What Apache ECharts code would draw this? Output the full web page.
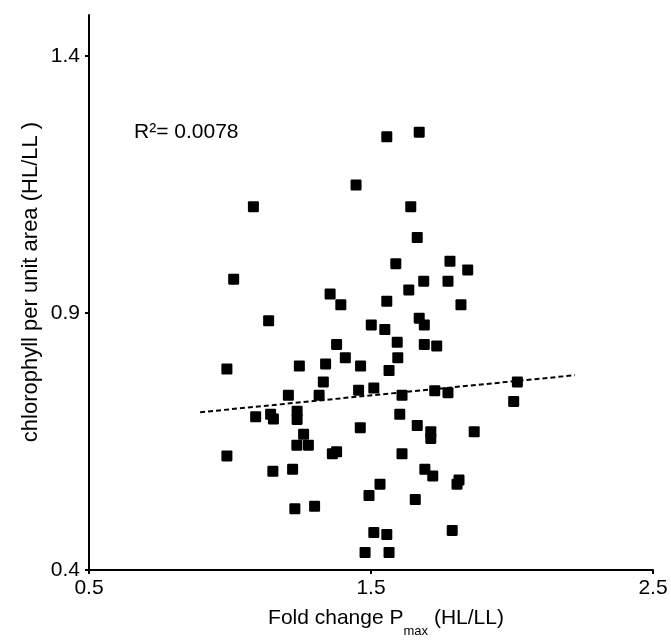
<!DOCTYPE html>
<html>
<head>
<meta charset="utf-8">
<script src="https://cdn.jsdelivr.net/npm/echarts@6/dist/echarts.min.js"></script>
<style>
html,body{margin:0;padding:0;background:#fff;}
#chart{width:671px;height:641px;}
</style>
</head>
<body>
<div id="chart"></div>
<script>
// Fold change Pmax (HL/LL) for each sample
var pmaxFold = [
  1.556, 1.671, 1.447, 1.083, 1.641, 1.664, 1.588, 1.013, 1.687, 1.634,
  1.355, 1.393, 1.556, 1.137, 1.671, 1.689, 1.501, 1.549, 1.593, 1.378,
  1.689, 1.780, 1.843, 1.773, 1.819, 1.733, 0.989, 1.246, 1.339, 1.409,
  1.463, 1.595, 1.564, 1.331, 1.207, 1.316, 1.456, 1.510, 1.610, 1.091,
  1.144, 1.154, 1.238, 1.238, 1.602, 1.462, 1.664, 1.261, 1.237, 1.278,
  1.363, 1.378, 1.610, 0.989, 1.152, 1.222, 1.691, 1.532, 1.493, 1.657,
  1.230, 1.300, 1.510, 1.556, 1.479, 1.564, 1.726, 1.773, 2.019, 2.006,
  1.712, 1.712, 1.866, 1.719, 1.812, 1.805, 1.788
];
// Chlorophyll per unit area (HL/LL) for each sample
var chlorophyll = [
  1.243, 1.252, 1.149, 1.107, 1.107, 1.047, 0.996, 0.966, 0.962, 0.945,
  0.937, 0.916, 0.923, 0.885, 0.890, 0.877, 0.877, 0.868, 0.843, 0.839,
  0.839, 1.001, 0.984, 0.962, 0.916, 0.836, 0.791, 0.797, 0.801, 0.813,
  0.797, 0.813, 0.788, 0.766, 0.740, 0.740, 0.750, 0.754, 0.740, 0.698,
  0.703, 0.694, 0.709, 0.693, 0.703, 0.677, 0.681, 0.664, 0.643, 0.643,
  0.626, 0.630, 0.626, 0.622, 0.592, 0.596, 0.596, 0.567, 0.545, 0.537,
  0.519, 0.524, 0.473, 0.469, 0.434, 0.434, 0.749, 0.745, 0.766, 0.728,
  0.669, 0.656, 0.669, 0.583, 0.575, 0.567, 0.477
];
// Linear trend line end points
var trendX = [0.894, 2.223];
var trendY = [0.707, 0.779];
// Axis tick labels
var xTicks = [0.5, 1.5, 2.5];
var yTicks = [0.4, 0.9, 1.4];
var r2Label = 'R\u00b2= 0.0078';
var xTitleMain = 'Fold change P';
var xTitleSub = 'max';
var xTitleEnd = ' (HL/LL)';
var yTitle = 'chlorophyll per unit area (HL/LL )';

var FONT = '"Liberation Sans", Arial, Helvetica, sans-serif';
var points = pmaxFold.map(function (x, i) { return [x, chlorophyll[i]]; });
var trend = trendX.map(function (x, i) { return [x, trendY[i]]; });

// measure title pieces so the subscript sits right after "P"
var ctx = document.createElement('canvas').getContext('2d');
function tw(t, size) { ctx.font = size + 'px ' + FONT; return ctx.measureText(t).width; }
var mainSize = 21, subSize = 13;
var w1 = tw(xTitleMain, mainSize), w2 = tw(xTitleSub, subSize), w3 = tw(xTitleEnd, mainSize);
var titleCenter = 386;
var x0 = titleCenter - (w1 + w2 + w3) / 2;

var chart = echarts.init(document.getElementById('chart'), null, {renderer: 'canvas'});
chart.setOption({
  animation: false,
  backgroundColor: '#ffffff',
  grid: {left: 89, right: 18, top: 15, bottom: 71, containLabel: false, outerBoundsMode: 'none'},
  xAxis: {
    type: 'value', min: 0.5, max: 2.5, interval: 1,
    axisLine: {show: true, onZero: false, lineStyle: {color: '#000', width: 2}},
    axisTick: {show: true, inside: false, length: 4, customValues: xTicks, lineStyle: {color: '#000', width: 2}},
    axisLabel: {show: true, margin: 8, customValues: xTicks, color: '#000', fontSize: 21, fontFamily: FONT,
      formatter: function (v) { return v.toFixed(1); }},
    splitLine: {show: false}
  },
  yAxis: {
    type: 'value', min: 0.4, max: 1.48, interval: 0.5,
    axisLine: {show: true, onZero: false, lineStyle: {color: '#000', width: 2}},
    axisTick: {show: true, inside: false, length: 4, customValues: yTicks, lineStyle: {color: '#000', width: 2}},
    axisLabel: {show: true, margin: 9, customValues: yTicks, color: '#000', fontSize: 21, fontFamily: FONT,
      formatter: function (v) { return v.toFixed(1); }},
    splitLine: {show: false}
  },
  series: [
    {
      type: 'line', data: trend, symbol: 'none', silent: true, z: 1,
      lineStyle: {color: '#000', width: 2, type: [5, 3]}
    },
    {
      type: 'scatter', data: points, z: 2,
      symbol: 'path://M1,0 H9 Q10,0 10,1 V9 Q10,10 9,10 H1 Q0,10 0,9 V1 Q0,0 1,0 Z',
      symbolSize: 11,
      itemStyle: {color: '#000', opacity: 1}
    }
  ],
  graphic: [
    {type: 'text', x: 134, y: 132, silent: true,
      style: {text: r2Label, fill: '#000', fontSize: 21, fontFamily: FONT, align: 'left', verticalAlign: 'middle'}},
    {type: 'text', x: 31, y: 282, rotation: Math.PI / 2, silent: true,
      style: {text: yTitle, fill: '#000', fontSize: 22, fontFamily: FONT, align: 'center', verticalAlign: 'middle'}},
    {type: 'text', x: x0, y: 618, silent: true,
      style: {text: xTitleMain, fill: '#000', fontSize: mainSize, fontFamily: FONT, align: 'left', verticalAlign: 'middle'}},
    {type: 'text', x: x0 + w1, y: 631, silent: true,
      style: {text: xTitleSub, fill: '#000', fontSize: subSize, fontFamily: FONT, align: 'left', verticalAlign: 'middle'}},
    {type: 'text', x: x0 + w1 + w2, y: 618, silent: true,
      style: {text: xTitleEnd, fill: '#000', fontSize: mainSize, fontFamily: FONT, align: 'left', verticalAlign: 'middle'}}
  ]
});
</script>
</body>
</html>
